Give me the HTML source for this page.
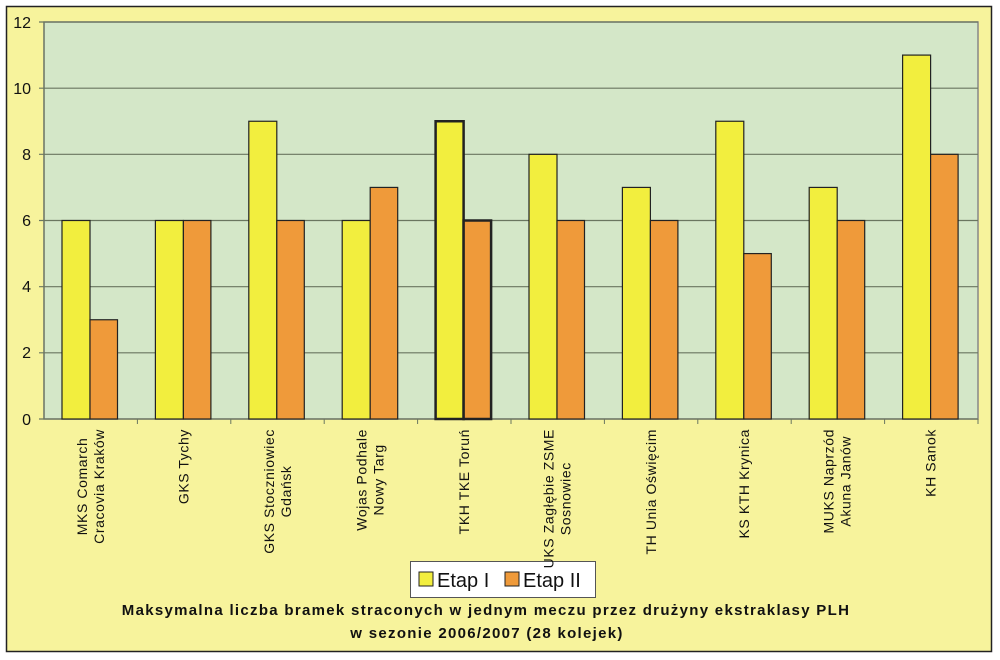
<!DOCTYPE html><html><head><meta charset="utf-8"><style>
body{margin:0;background:#fff;}
.w{position:relative;width:1000px;height:660px;overflow:hidden;font-family:"Liberation Sans",sans-serif;}
.lab{position:absolute;top:429px;width:0;height:0;}
.lab div{position:absolute;right:0;top:0;transform-origin:right top;transform:rotate(-90deg) translateY(-50%);white-space:pre;text-align:center;font-size:14px;letter-spacing:0.6px;line-height:17px;color:#111;}
</style></head><body><div class="w">
<svg width="1000" height="660" style="position:absolute;left:0;top:0">
<rect x="6.5" y="6.5" width="985" height="645" fill="#f7f39c" stroke="#222" stroke-width="1.5"/>
<rect x="44" y="22" width="934" height="397" fill="#d4e7c8" stroke="#888" stroke-width="1.5"/>
<g stroke="#6a7660" stroke-width="1.2">
<line x1="39" y1="22" x2="978" y2="22"/><line x1="39" y1="88.2" x2="978" y2="88.2"/><line x1="39" y1="154.3" x2="978" y2="154.3"/><line x1="39" y1="220.5" x2="978" y2="220.5"/><line x1="39" y1="286.7" x2="978" y2="286.7"/><line x1="39" y1="352.8" x2="978" y2="352.8"/><line x1="39" y1="419" x2="978" y2="419"/>
<line x1="44" y1="22" x2="44" y2="419"/>
</g>
<g font-size="16" fill="#111" text-anchor="end">
<text x="31" y="28">12</text><text x="31" y="94">10</text><text x="31" y="160">8</text><text x="31" y="226">6</text><text x="31" y="292">4</text><text x="31" y="358">2</text><text x="31" y="425">0</text>
</g>
<g id="bars"></g>
<rect x="410.5" y="561.5" width="185" height="36" fill="#fff" stroke="#555"/>
<rect x="419" y="572" width="14" height="14" fill="#f2ee3e" stroke="#222"/>
<text x="437" y="587" font-size="20" fill="#111">Etap I</text>
<rect x="505" y="572" width="14" height="14" fill="#ef9a3a" stroke="#222"/>
<text x="523" y="587" font-size="20" fill="#111">Etap II</text>
<g font-size="15" font-weight="bold" fill="#111" text-anchor="middle" letter-spacing="1.3">
<text x="486" y="615">Maksymalna liczba bramek straconych w jednym meczu przez drużyny ekstraklasy PLH</text>
<text x="487" y="638">w sezonie 2006/2007 (28 kolejek)</text>
</g>
</svg>
<div id="labs"></div>
</div>
<script>
var d=[[6,3],[6,6],[9,6],[6,7],[9,6],[8,6],[7,6],[9,5],[7,6],[11,8]];
var L=["MKS Comarch\nCracovia Kraków","GKS Tychy","GKS Stoczniowiec\nGdańsk","Wojas Podhale\nNowy Targ","TKH TKE Toruń","UKS Zagłębie ZSME\nSosnowiec","TH Unia Oświęcim","KS KTH Krynica","MUKS Naprzód\nAkuna Janów","KH Sanok"];
var s="",cw=93.4,u=33.083,h="";
for(var i=0;i<10;i++){var x0=44+cw*i+18;var sw=i==4?2.5:1.2;
s+='<rect x="'+x0+'" y="'+(419-d[i][0]*u)+'" width="28" height="'+d[i][0]*u+'" fill="#f2ee3e" stroke="#222" stroke-width="'+sw+'"/>';
s+='<rect x="'+(x0+28)+'" y="'+(419-d[i][1]*u)+'" width="27.5" height="'+d[i][1]*u+'" fill="#ef9a3a" stroke="#222" stroke-width="'+sw+'"/>';
s+='<line x1="'+(44+cw*(i+1))+'" y1="419" x2="'+(44+cw*(i+1))+'" y2="424" stroke="#6a7660"/>';
h+='<div class="lab" style="left:'+(44+cw*(i+0.5))+'px"><div>'+L[i]+'</div></div>';}
document.getElementById("bars").innerHTML=s;document.getElementById("labs").innerHTML=h;
</script>
</body></html>
